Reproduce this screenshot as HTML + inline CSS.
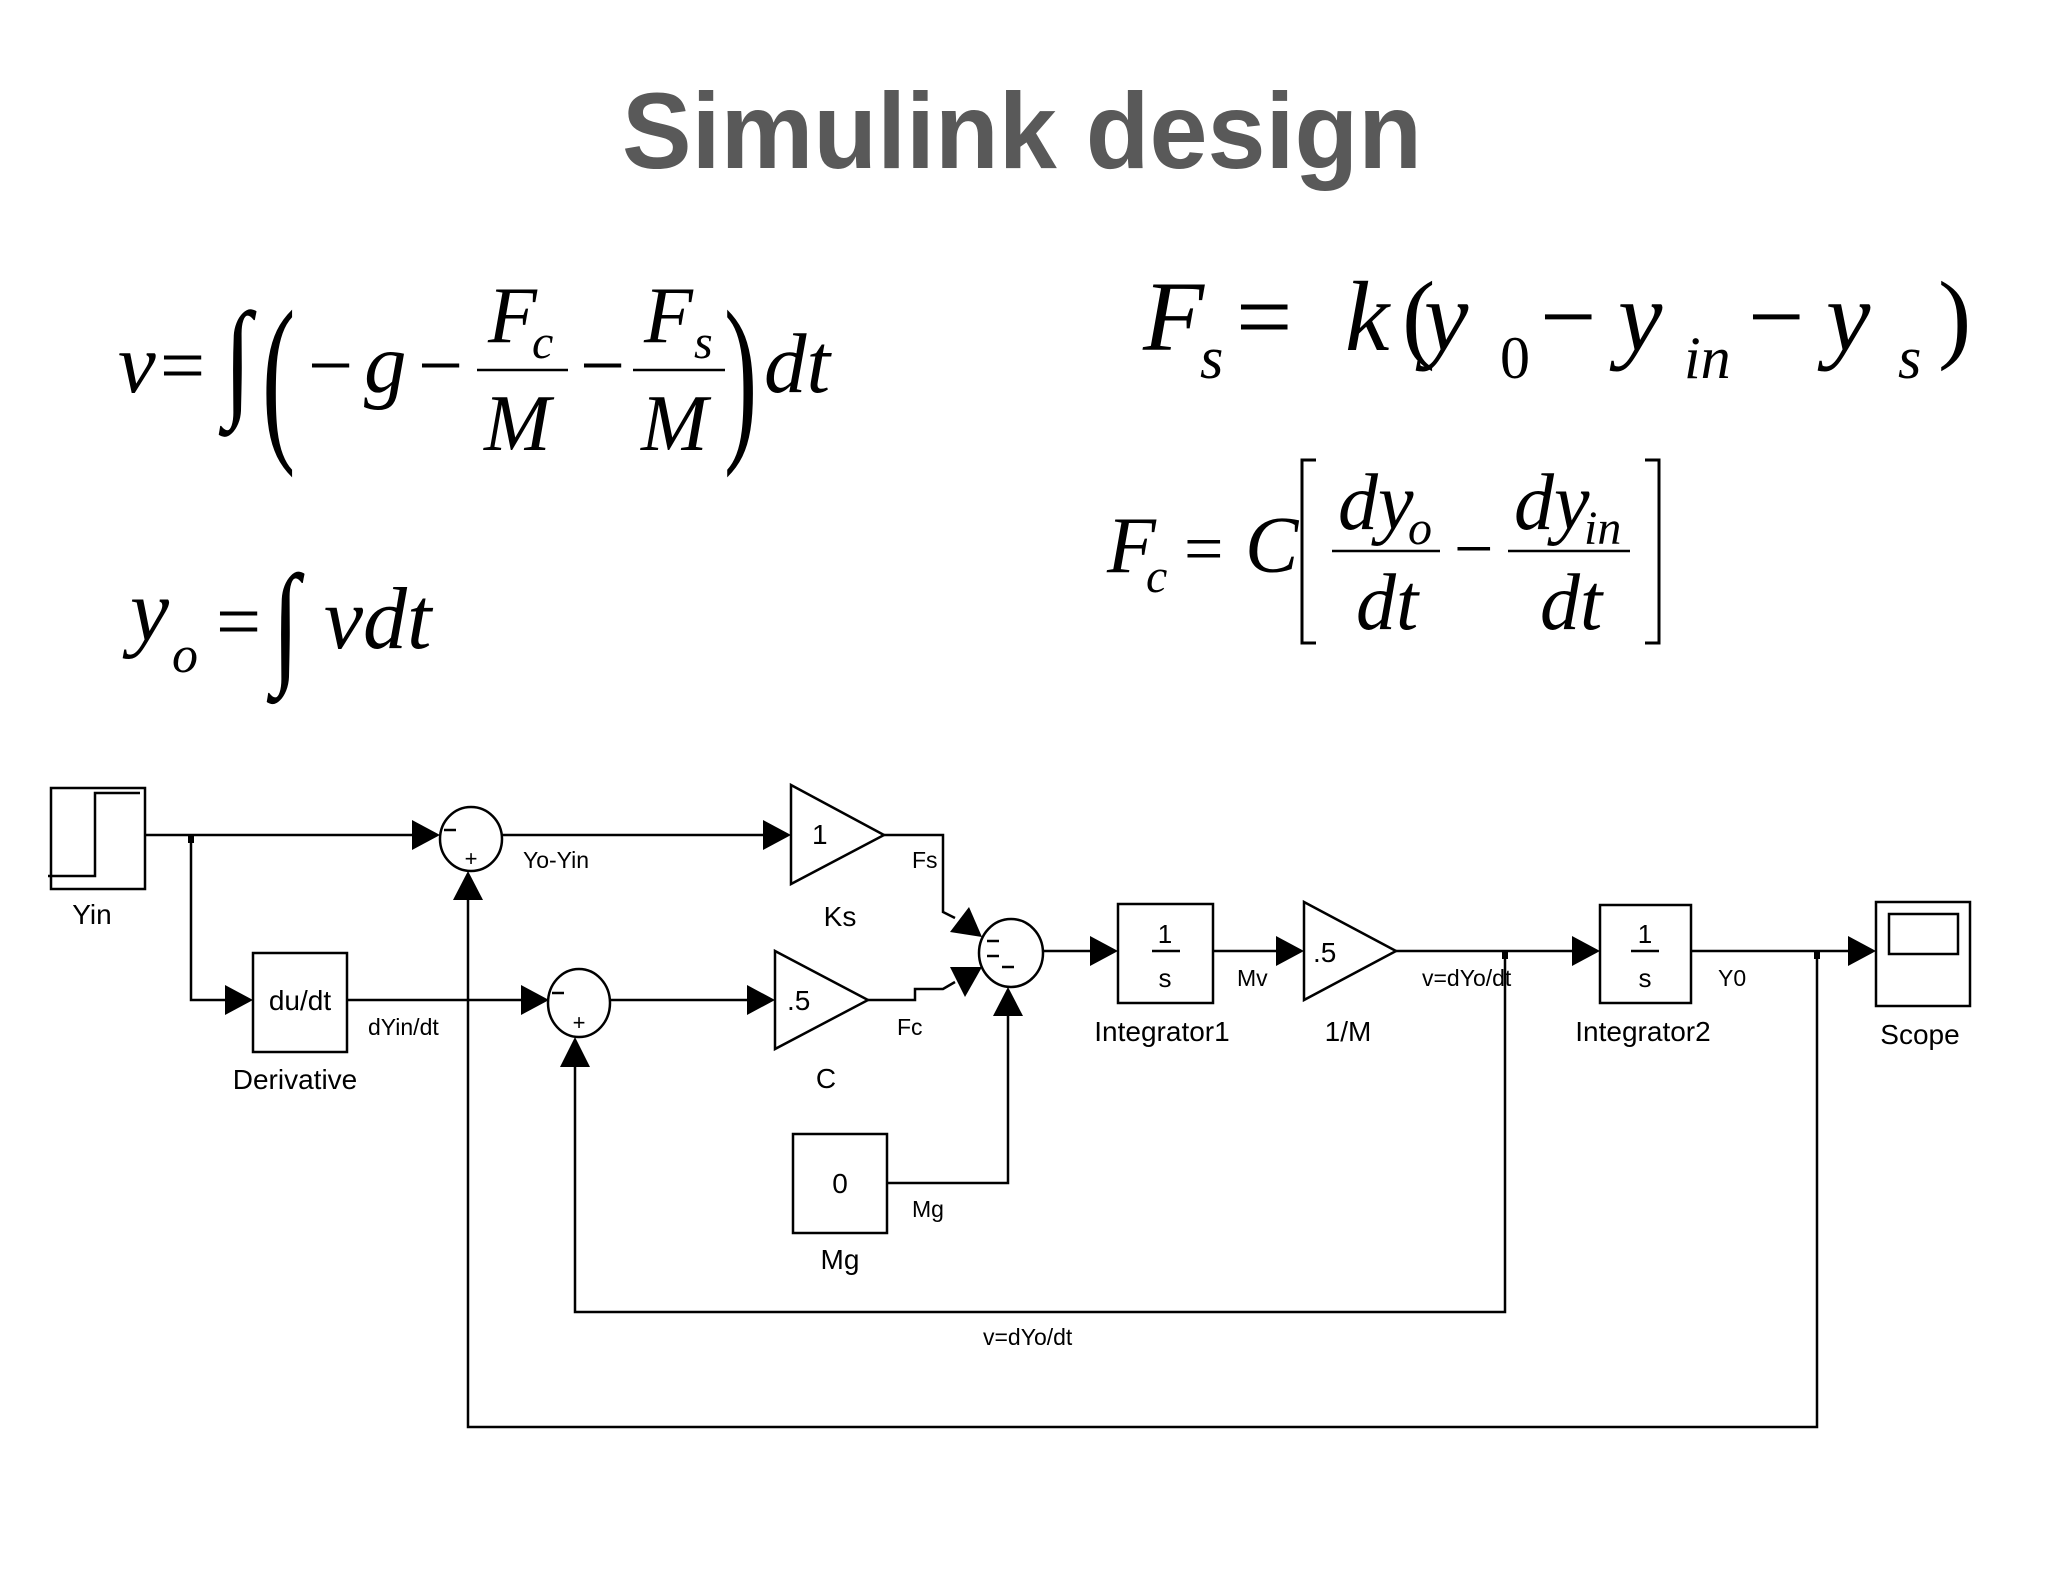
<!DOCTYPE html>
<html><head><meta charset="utf-8"><style>
html,body{margin:0;padding:0;background:#fff;}
svg{display:block;}
.e{font-family:"Liberation Serif",serif;font-style:italic;fill:#000;}
.n{font-family:"Liberation Serif",serif;fill:#000;}
.s{font-family:"Liberation Sans",sans-serif;fill:#000;}
</style></head><body>
<svg width="2048" height="1582" viewBox="0 0 2048 1582" xmlns="http://www.w3.org/2000/svg">
<rect width="2048" height="1582" fill="#fff"/>
<text x="1022" y="168" text-anchor="middle" font-family="Liberation Sans,sans-serif" font-weight="bold" font-size="108" fill="#595959" textLength="800" lengthAdjust="spacingAndGlyphs">Simulink design</text>

<!-- Eq 1 -->
<text class="e" x="118" y="392" font-size="85">v</text>
<text class="n" x="160" y="392" font-size="80">=</text>
<text class="n" x="0" y="0" font-size="100" transform="translate(224,402) scale(1,1.3)">∫</text>
<text class="n" x="0" y="0" font-size="100" transform="translate(262,438) scale(1,1.85)">(</text>
<text class="n" x="308" y="392" font-size="80">−</text>
<text class="e" x="364" y="392" font-size="85">g</text>
<text class="n" x="418" y="392" font-size="80">−</text>
<line x1="477" y1="370" x2="568" y2="370" stroke="#000" stroke-width="2.5"/>
<text class="e" x="488" y="342" font-size="80">F</text>
<text class="e" x="532" y="358" font-size="48">c</text>
<text class="e" x="484" y="450" font-size="80">M</text>
<text class="n" x="580" y="392" font-size="80">−</text>
<line x1="633" y1="370" x2="725" y2="370" stroke="#000" stroke-width="2.5"/>
<text class="e" x="644" y="342" font-size="80">F</text>
<text class="e" x="694" y="358" font-size="48">s</text>
<text class="e" x="641" y="450" font-size="80">M</text>
<text class="n" x="0" y="0" font-size="100" transform="translate(724,438) scale(1,1.85)">)</text>
<text class="e" x="764" y="392" font-size="85">dt</text>

<!-- Eq yo -->
<text class="e" x="130" y="640" font-size="88">y</text>
<text class="e" x="172" y="672" font-size="52">o</text>
<text class="n" x="216" y="648" font-size="80">=</text>
<text class="n" x="0" y="0" font-size="100" transform="translate(272,668) scale(1,1.35)">∫</text>
<text class="e" x="324" y="648" font-size="88">vdt</text>

<!-- Eq Fs -->
<text class="e" x="1143" y="350" font-size="100">F</text>
<text class="e" x="1200" y="378" font-size="60">s</text>
<text class="n" x="1236" y="350" font-size="100">=</text>
<text class="e" x="1345" y="350" font-size="100">k</text>
<text class="n" x="1402" y="350" font-size="100">(</text>
<text class="e" x="1424" y="350" font-size="100">y</text>
<text class="n" x="1500" y="378" font-size="60">0</text>
<text class="n" x="1540" y="350" font-size="100">−</text>
<text class="e" x="1618" y="350" font-size="100">y</text>
<text class="e" x="1684" y="378" font-size="60">in</text>
<text class="n" x="1748" y="350" font-size="100">−</text>
<text class="e" x="1826" y="350" font-size="100">y</text>
<text class="e" x="1898" y="378" font-size="60">s</text>
<text class="n" x="1938" y="350" font-size="100">)</text>

<!-- Eq Fc -->
<text class="e" x="1107" y="572" font-size="80">F</text>
<text class="e" x="1146" y="592" font-size="48">c</text>
<text class="n" x="1184" y="572" font-size="70">=</text>
<text class="e" x="1245" y="572" font-size="80">C</text>
<path d="M1316 460 H1302 V643 H1316 M1645 460 H1659 V643 H1645" fill="none" stroke="#000" stroke-width="3"/>
<line x1="1332" y1="551" x2="1440" y2="551" stroke="#000" stroke-width="2.5"/>
<text class="e" x="1338" y="529" font-size="80">dy</text>
<text class="e" x="1408" y="544" font-size="48">o</text>
<text class="e" x="1356" y="629" font-size="80">dt</text>
<text class="n" x="1454" y="572" font-size="70">−</text>
<line x1="1508" y1="551" x2="1630" y2="551" stroke="#000" stroke-width="2.5"/>
<text class="e" x="1514" y="529" font-size="80">dy</text>
<text class="e" x="1584" y="544" font-size="48">in</text>
<text class="e" x="1540" y="629" font-size="80">dt</text>

<!-- Diagram -->
<g stroke="#000" stroke-width="2.5" fill="none">
<rect x="51" y="788" width="94" height="101"/>
<polyline points="48,876 95,876 95,793 140,793"/>
<rect x="253" y="953" width="94" height="99"/>
<rect x="793" y="1134" width="94" height="99"/>
<rect x="1118" y="904" width="95" height="99"/>
<rect x="1600" y="905" width="91" height="98"/>
<rect x="1876" y="902" width="94" height="104"/>
<rect x="1889" y="914" width="69" height="40"/>
<line x1="1152" y1="951" x2="1180" y2="951"/>
<line x1="1631" y1="951" x2="1659" y2="951"/>
<polygon points="791,785 884,835 791,884"/>
<polygon points="775,951 868,1000 775,1049"/>
<polygon points="1304,902 1396,951 1304,1000"/>
<ellipse cx="471" cy="839" rx="31" ry="32"/>
<ellipse cx="579" cy="1003" rx="31" ry="34"/>
<ellipse cx="1011" cy="953" rx="32" ry="34"/>
<polyline points="145,835 425,835"/>
<polyline points="191,835 191,1000 238,1000"/>
<polyline points="502,835 776,835"/>
<polyline points="884,835 943,835 943,912 955,918"/>
<polyline points="347,1000 534,1000"/>
<polyline points="610,1000 760,1000"/>
<polyline points="868,1000 915,1000 915,989 943,989 955,982"/>
<polyline points="887,1183 1008,1183 1008,1016"/>
<polyline points="1043,951 1103,951"/>
<polyline points="1213,951 1289,951"/>
<polyline points="1396,951 1585,951"/>
<polyline points="1505,951 1505,1312 575,1312 575,1067"/>
<polyline points="1691,951 1861,951"/>
<polyline points="1817,951 1817,1427 468,1427 468,900"/>
</g>
<g fill="#000">
<polygon points="440,835 412,820 412,850"/>
<polygon points="253,1000 225,985 225,1015"/>
<polygon points="791,835 763,820 763,850"/>
<polygon points="549,1000 521,985 521,1015"/>
<polygon points="775,1000 747,985 747,1015"/>
<polygon points="1118,951 1090,936 1090,966"/>
<polygon points="1304,951 1276,936 1276,966"/>
<polygon points="1600,951 1572,936 1572,966"/>
<polygon points="1876,951 1848,936 1848,966"/>
<polygon points="468,871 453,900 483,900"/>
<polygon points="575,1037 560,1067 590,1067"/>
<polygon points="1008,987 993,1016 1023,1016"/>
<polygon points="982,937 950,932 969,907"/>
<polygon points="982,967 950,967 965,997"/>
<rect x="188" y="835" width="6" height="8"/>
<rect x="1502" y="951" width="6" height="8"/>
<rect x="1814" y="951" width="6" height="8"/>
</g>
<g stroke="#000" stroke-width="2.5">
<line x1="444" y1="830" x2="456" y2="830"/>
<line x1="552" y1="993" x2="564" y2="993"/>
<line x1="987" y1="941" x2="999" y2="941"/>
<line x1="987" y1="956" x2="999" y2="956"/>
<line x1="1002" y1="967" x2="1014" y2="967"/>
</g>
<g class="s" font-family="Liberation Sans,sans-serif">
<text x="471" y="866" font-size="22" text-anchor="middle">+</text>
<text x="579" y="1030" font-size="22" text-anchor="middle">+</text>
<text x="812" y="844" font-size="28">1</text>
<text x="787" y="1010" font-size="28">.5</text>
<text x="1313" y="962" font-size="28">.5</text>
<text x="840" y="1193" font-size="28" text-anchor="middle">0</text>
<text x="1165" y="943" font-size="26" text-anchor="middle">1</text>
<text x="1165" y="987" font-size="26" text-anchor="middle">s</text>
<text x="1645" y="943" font-size="26" text-anchor="middle">1</text>
<text x="1645" y="987" font-size="26" text-anchor="middle">s</text>
<text x="300" y="1010" font-size="28" text-anchor="middle">du/dt</text>
<text x="92" y="924" font-size="28" text-anchor="middle">Yin</text>
<text x="295" y="1089" font-size="28" text-anchor="middle">Derivative</text>
<text x="840" y="926" font-size="28" text-anchor="middle">Ks</text>
<text x="826" y="1088" font-size="28" text-anchor="middle">C</text>
<text x="840" y="1269" font-size="28" text-anchor="middle">Mg</text>
<text x="1162" y="1041" font-size="28" text-anchor="middle">Integrator1</text>
<text x="1348" y="1041" font-size="28" text-anchor="middle">1/M</text>
<text x="1643" y="1041" font-size="28" text-anchor="middle">Integrator2</text>
<text x="1920" y="1044" font-size="28" text-anchor="middle">Scope</text>
<text x="523" y="868" font-size="23">Yo-Yin</text>
<text x="912" y="868" font-size="23">Fs</text>
<text x="368" y="1035" font-size="23">dYin/dt</text>
<text x="897" y="1035" font-size="23">Fc</text>
<text x="912" y="1217" font-size="23">Mg</text>
<text x="1237" y="986" font-size="23">Mv</text>
<text x="1422" y="986" font-size="23">v=dYo/dt</text>
<text x="1718" y="986" font-size="23">Y0</text>
<text x="983" y="1345" font-size="23">v=dYo/dt</text>
</g>
</svg>
</body></html>
